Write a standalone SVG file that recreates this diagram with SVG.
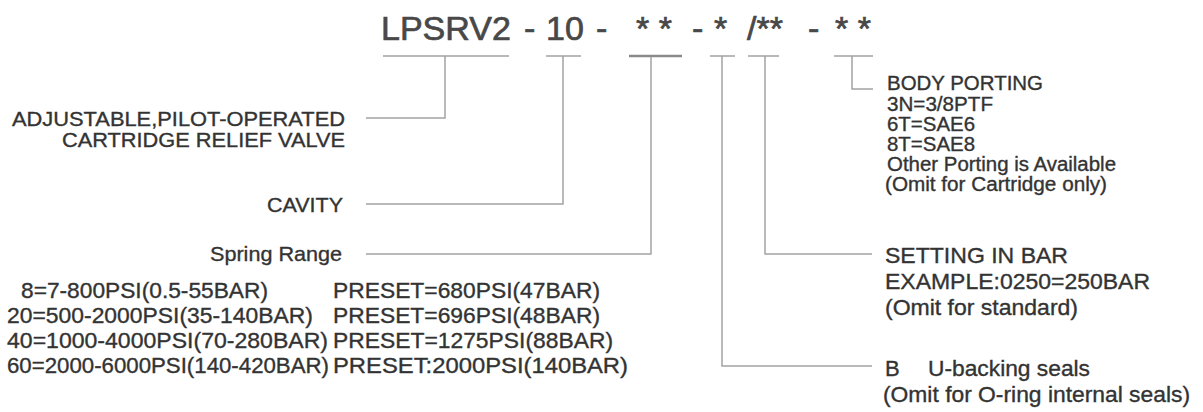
<svg xmlns="http://www.w3.org/2000/svg" width="1203" height="412" viewBox="0 0 1203 412">
<style>
text{font-family:"Liberation Sans",Arial,sans-serif;fill:#333333;stroke:#333333;stroke-width:0.35}
.t{font-size:34px;fill:#484848;stroke:#484848;stroke-width:0.7}
.s{font-size:21px}
.r{font-size:22px}
.p{font-size:20px}
.ln{fill:none;stroke:#a3a3a3;stroke-width:1.5}
.bold{stroke:#8a8a8a;stroke-width:2.5}
</style>
<rect width="1203" height="412" fill="#ffffff"/>
<g id="title">
<text class="t" x="381" y="40">LPSRV2</text>
<text class="t" x="524" y="40">-</text>
<text class="t" x="546" y="40">10</text>
<text class="t" x="596" y="40">-</text>
<text class="t" x="636" y="40">* *</text>
<text class="t" x="692" y="40">-</text>
<text class="t" x="714" y="40">*</text>
<text class="t" x="747" y="40">/**</text>
<text class="t" x="808" y="40">-</text>
<text class="t" x="835" y="40">* *</text>
</g>
<g id="connectors">
<path class="ln" d="M383 56H509M445 56V118H366"/>
<path class="ln" d="M546 56H581M563 56V204H366"/>
<path class="ln bold" d="M629 56H682"/>
<path class="ln" d="M651 57V254H366"/>
<path class="ln" d="M710 56H735M722 56V366H872"/>
<path class="ln" d="M748 56H779M765 56V254H872"/>
<path class="ln" d="M834 56H873M852 56V89H873"/>
</g>
<g id="node-model">
<text class="s" x="12" y="126" textLength="333" lengthAdjust="spacingAndGlyphs">ADJUSTABLE,PILOT-OPERATED</text>
<text class="s" x="62" y="147" textLength="283" lengthAdjust="spacingAndGlyphs">CARTRIDGE RELIEF VALVE</text>
</g>
<g id="node-cavity">
<text class="s" x="267" y="212" textLength="76" lengthAdjust="spacingAndGlyphs">CAVITY</text>
</g>
<g id="node-spring">
<text class="s" x="210" y="261" textLength="132" lengthAdjust="spacingAndGlyphs">Spring Range</text>
<text class="r" x="21" y="298" textLength="247" lengthAdjust="spacingAndGlyphs">8=7-800PSI(0.5-55BAR)</text>
<text class="r" x="333" y="298" textLength="267" lengthAdjust="spacingAndGlyphs">PRESET=680PSI(47BAR)</text>
<text class="r" x="7" y="323" textLength="306" lengthAdjust="spacingAndGlyphs">20=500-2000PSI(35-140BAR)</text>
<text class="r" x="333" y="323" textLength="267" lengthAdjust="spacingAndGlyphs">PRESET=696PSI(48BAR)</text>
<text class="r" x="7" y="348" textLength="321" lengthAdjust="spacingAndGlyphs">40=1000-4000PSI(70-280BAR)</text>
<text class="r" x="333" y="348" textLength="280" lengthAdjust="spacingAndGlyphs">PRESET=1275PSI(88BAR)</text>
<text class="r" x="7" y="373" textLength="322" lengthAdjust="spacingAndGlyphs">60=2000-6000PSI(140-420BAR)</text>
<text class="r" x="333" y="373" textLength="295" lengthAdjust="spacingAndGlyphs">PRESET:2000PSI(140BAR)</text>
</g>
<g id="node-porting">
<text class="p" x="887" y="90" textLength="156" lengthAdjust="spacingAndGlyphs">BODY PORTING</text>
<text class="p" x="887" y="111" textLength="106" lengthAdjust="spacingAndGlyphs">3N=3/8PTF</text>
<text class="p" x="887" y="131" textLength="88" lengthAdjust="spacingAndGlyphs">6T=SAE6</text>
<text class="p" x="887" y="151" textLength="88" lengthAdjust="spacingAndGlyphs">8T=SAE8</text>
<text class="p" x="887" y="171" textLength="229" lengthAdjust="spacingAndGlyphs">Other Porting is Available</text>
<text class="p" x="885" y="191" textLength="222" lengthAdjust="spacingAndGlyphs">(Omit for Cartridge only)</text>
</g>
<g id="node-setting">
<text class="r" x="885" y="263" textLength="183" lengthAdjust="spacingAndGlyphs">SETTING IN BAR</text>
<text class="r" x="885" y="289" textLength="265" lengthAdjust="spacingAndGlyphs">EXAMPLE:0250=250BAR</text>
<text class="r" x="885" y="315" textLength="193" lengthAdjust="spacingAndGlyphs">(Omit for standard)</text>
</g>
<g id="node-seals">
<text class="r" x="885" y="376">B</text>
<text class="r" x="928" y="376" textLength="162" lengthAdjust="spacingAndGlyphs">U-backing seals</text>
<text class="r" x="883" y="402" textLength="307" lengthAdjust="spacingAndGlyphs">(Omit for O-ring internal seals)</text>
</g>
</svg>
